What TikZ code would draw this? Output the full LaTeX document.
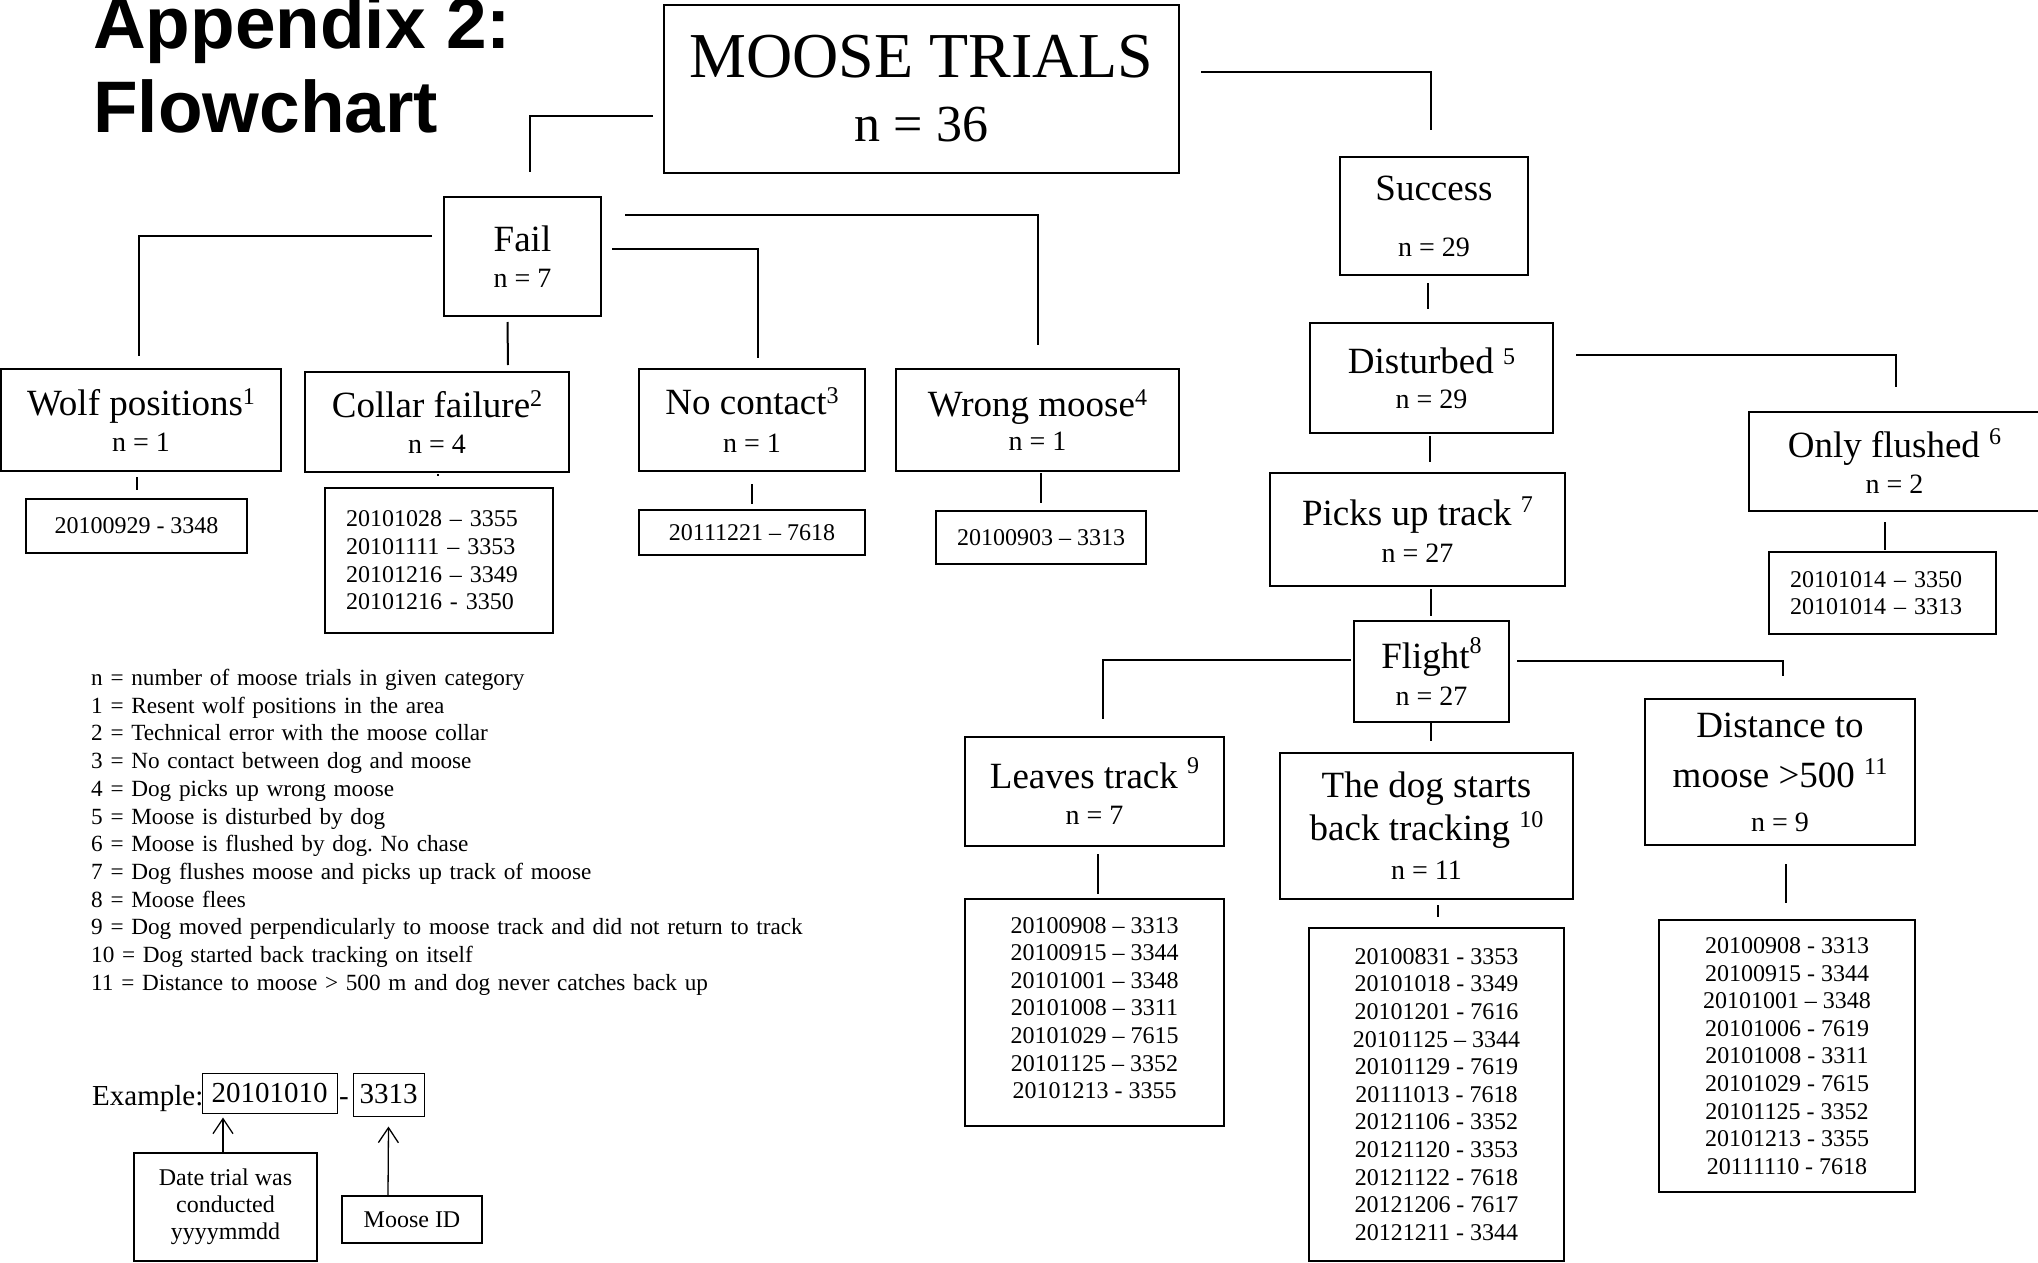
\documentclass[tikz,border=0pt]{standalone}
\usepackage{fontspec}
\setmainfont{Liberation Serif}
\newfontfamily\ttlfont{Liberation Sans}
\usetikzlibrary{calc,arrows.meta}
\newcommand\spr[2][13pt]{\raisebox{#1}{\fontsize{24}{24}\selectfont #2}}
\newcommand\nsz{\fontsize{28}{28}\selectfont}
\begin{document}
\frenchspacing
\begin{tikzpicture}[x=1pt,y=-1pt,
  box/.style={draw, line width=2pt, inner sep=0pt, align=center},
  thinbox/.style={draw, line width=1pt, inner sep=0pt, align=center},
  big/.style={font=\fontsize{37}{#1}\selectfont},
  lst/.style={font=\fontsize{24}{27.6}\selectfont},
  conn/.style={line width=2pt},
  arr/.style={line width=1.3pt, -{Straight Barb[length=15pt,width=20pt,line width=1.3pt]}},
  txt/.style={inner sep=0pt}]
\useasboundingbox (0,0) rectangle (2038,1263);
\clip (0,0) rectangle (2038,1263);

% title
\node[txt, anchor=base west, font=\ttlfont\bfseries\fontsize{73}{73}\selectfont] (title1) at (93,49) {Appendix 2:};
\node[txt, anchor=base west, font=\ttlfont\bfseries\fontsize{73}{73}\selectfont] (title2) at (93,132) {Flowchart};

% top
\node[box, minimum width=515pt, minimum height=168pt, font=\fontsize{64}{64}\selectfont] (moose) at (921.5,89)
  {MOOSE TRIALS\\{\fontsize{52}{52}\selectfont n = 36}};
\node[box, big=36, minimum width=157pt, minimum height=119pt] (fail) at (522.5,256.5) {Fail\\{\nsz n = 7}};
\node[box, big=56, minimum width=188pt, minimum height=118pt] (success) at (1434,216) {Success\\{\nsz n = 29}};

% fail branch
\node[box, big=36, minimum width=280pt, minimum height=102pt] (wolf) at (141,420) {Wolf positions\spr[11pt]{1}\\{\nsz n = 1}};
\node[box, big=36, minimum width=264pt, minimum height=100pt] (collar) at (437,422) {Collar failure\spr[11pt]{2}\\{\nsz n = 4}};
\node[box, big=38, minimum width=226pt, minimum height=102pt] (nocontact) at (752,420) {No contact\spr[11pt]{3}\\{\nsz n = 1}};
\node[box, big=34, minimum width=283pt, minimum height=102pt] (wrong) at (1037.5,420) {Wrong moose\spr[11pt]{4}\\{\nsz n = 1}};

\node[box, lst, minimum width=221pt, minimum height=54pt] (wolfid) at (136.5,526) {20100929 - 3348};
\node[box, lst, align=left, text width=186pt, inner xsep=21pt, minimum width=228pt, minimum height=145pt] (collarlist) at (439,560.5)
  {20101028 -- 3355\\20101111 -- 3353\\20101216 -- 3349\\20101216 - 3350};
\node[box, lst, minimum width=226pt, minimum height=45pt] (ncid) at (752,532.5) {20111221 -- 7618};
\node[box, lst, minimum width=210pt, minimum height=53pt] (wrid) at (1041,537.5) {20100903 -- 3313};

% success branch
\node[box, big=35, minimum width=243pt, minimum height=110pt] (disturbed) at (1431.5,378) {Disturbed \spr[9pt]{5}\\{\nsz n = 29}};
\node[box, big=36, minimum width=291pt, minimum height=99pt] (only) at (1894.5,461.5) {Only flushed \spr{6}\\{\nsz n = 2}};
\node[box, lst, align=left, text width=185pt, inner xsep=21pt, minimum width=227pt, minimum height=82pt] (onlylist) at (1882.5,593)
  {20101014 -- 3350\\20101014 -- 3313};
\node[box, big=37, minimum width=295pt, minimum height=113pt] (picks) at (1417.5,529.5) {Picks up track \spr{7}\\{\nsz n = 27}};
\node[box, big=37, minimum width=155pt, minimum height=101pt] (flight) at (1431.5,671.5) {Flight\spr[15pt]{8}\\{\nsz n = 27}};

\node[box, big=36, minimum width=259pt, minimum height=109pt] (leaves) at (1094.5,791.5) {Leaves track \spr[15pt]{9}\\{\nsz n = 7}};
\node[box, big=39, minimum width=293pt, minimum height=146pt] (back) at (1426.5,826)
  {The dog starts\\[4pt]back tracking \spr{10}\\{\nsz n = 11}};
\node[box, big=44, minimum width=270pt, minimum height=146pt] (distance) at (1780,772)
  {Distance to\\[6pt]moose >500 \spr{11}\\{\nsz n = 9}};

\node[box, lst, minimum width=259pt, minimum height=227pt, text depth=9pt] (leaveslist) at (1094.5,1012.5)
  {20100908 -- 3313\\20100915 -- 3344\\20101001 -- 3348\\20101008 -- 3311\\20101029 -- 7615\\20101125 -- 3352\\20101213 - 3355};
\node[box, lst, minimum width=255pt, minimum height=333pt] (backlist) at (1436.5,1094.5)
  {20100831 - 3353\\20101018 - 3349\\20101201 - 7616\\20101125 -- 3344\\20101129 - 7619\\20111013 - 7618\\20121106 - 3352\\20121120 - 3353\\20121122 - 7618\\20121206 - 7617\\20121211 - 3344};
\node[box, lst, minimum width=256pt, minimum height=272pt] (distlist) at (1787,1056)
  {20100908 - 3313\\20100915 - 3344\\20101001 -- 3348\\20101006 - 7619\\20101008 - 3311\\20101029 - 7615\\20101125 - 3352\\20101213 - 3355\\20111110 - 7618};

% legend
\node[txt, anchor=north west, align=left, text width=900pt, font=\fontsize{23.2}{27.7}\selectfont] (legend) at (91,669)
  {n = number of moose trials in given category\\
   1 = Resent wolf positions in the area\\
   2 = Technical error with the moose collar\\
   3 = No contact between dog and moose\\
   4 = Dog picks up wrong moose\\
   5 = Moose is disturbed by dog\\
   6 = Moose is flushed by dog. No chase\\
   7 = Dog flushes moose and picks up track of moose\\
   8 = Moose flees\\
   9 = Dog moved perpendicularly to moose track and did not return to track\\
   10 = Dog started back tracking on itself\\
   11 = Distance to moose > 500 m and dog never catches back up};

% example
\node[txt, anchor=base west, font=\fontsize{29}{29}\selectfont] (exlabel) at (92,1105) {Example:};
\node[thinbox, font=\fontsize{29}{29}\selectfont, minimum width=135pt, minimum height=40pt] (datebox) at (269.5,1093) {20101010};
\node[txt, anchor=base, font=\fontsize{29}{29}\selectfont] (exdash) at (344,1105) {-};
\node[thinbox, font=\fontsize{29}{29}\selectfont, minimum width=71pt, minimum height=43pt] (idbox) at (388.5,1094.5) {3313};
\node[box, font=\fontsize{24}{27}\selectfont, minimum width=183pt, minimum height=108pt] (datexp) at (225.5,1207)
  {Date trial was\\conducted\\yyyymmdd};
\node[box, font=\fontsize{24}{24}\selectfont, minimum width=140pt, minimum height=47pt] (mid) at (412,1219.5) {Moose ID};

% connectors
\draw[conn] ($(moose.west)+(-10,27)$) -| ($(fail.north)+(7.5,-24)$);
\draw[conn] ($(moose.east)+(21,-17)$) -| ($(success.north)+(-3,-26)$);
\draw[conn] ($(fail.west)+(-11,-21)$) -| ($(wolf.north)+(-2,-12)$);
\draw[conn] ($(fail.south)+(-15,5)$) -- ($(collar.north)+(71,-6)$);
\draw[conn] ($(fail.east)+(10,-7.5)$) -| ($(nocontact.north)+(6,-10)$);
\draw[conn] ($(fail.east)+(23,-41.5)$) -| ($(wrong.north)+(0,-23)$);
\draw[conn] ($(wolf.south)+(-4.5,5)$) -- ($(wolfid.north)+(0,-8)$);
\draw[conn] ($(collar.south)+(1,1)$) -- ($(collarlist.north)+(-1,-11)$);
\draw[conn] ($(nocontact.south)+(0,12)$) -- ($(ncid.north)+(0,-5)$);
\draw[conn] ($(wrong.south)+(3.5,1)$) -- ($(wrid.north)+(0,-7)$);
\draw[conn] ($(success.south)+(-6,7)$) -- ($(disturbed.north)+(-3.5,-13)$);
\draw[conn] ($(disturbed.east)+(22,-23)$) -| ($(only.north)+(1.5,-24)$);
\draw[conn] ($(only.south)+(-9.5,10)$) -- ($(onlylist.north)+(2.5,-1)$);
\draw[conn] ($(disturbed.south)+(-1.5,2)$) -- ($(picks.north)+(12.5,-10)$);
\draw[conn] ($(picks.south)+(13.5,2)$) -- ($(flight.north)+(-0.5,-4)$);
\draw[conn] ($(flight.west)+(-2,-11.5)$) -| ($(leaves.north)+(8.5,-17)$);
\draw[conn] ($(flight.south)+(-0.5,0)$) -- ($(back.north)+(4.5,-11)$);
\draw[conn] ($(flight.east)+(7,-10.5)$) -| ($(distance.north)+(3,-22)$);
\draw[conn] ($(leaves.south)+(3.5,7)$) -- ($(leaveslist.north)+(3.5,-4)$);
\draw[conn] ($(back.south)+(11.5,5)$) -- ($(backlist.north)+(1.5,-10)$);
\draw[conn] ($(distance.south)+(6,18)$) -- ($(distlist.north)+(-1,-16)$);
\draw[arr] ($(datexp.north)+(-2.5,0)$) -- ($(datebox.south)+(-46.5,4)$);
\draw[arr] ($(mid.north)+(-24,0)$) -- ($(idbox.south)+(0,10)$);
\end{tikzpicture}
\end{document}
